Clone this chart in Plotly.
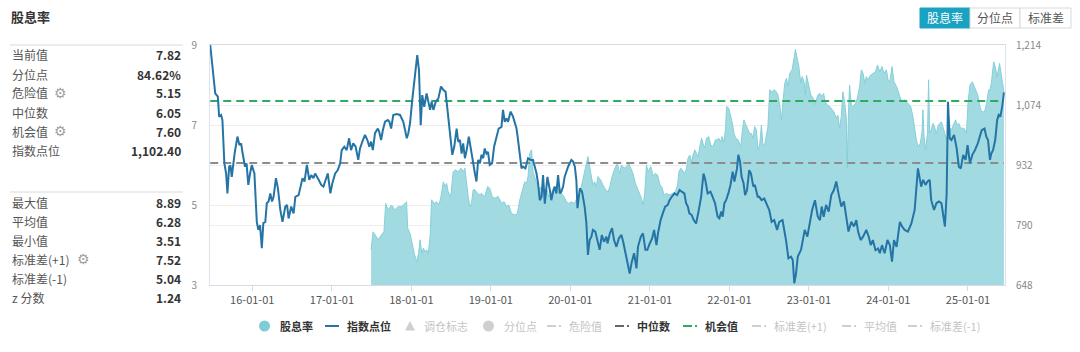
import plotly.graph_objects as go

# ---------------- data ----------------
idx_dates = [
"2015-06-22","2015-07-07","2015-07-15","2015-07-27","2015-08-02","2015-08-11","2015-08-17","2015-08-26",
"2015-09-03","2015-09-09","2015-09-17","2015-09-23","2015-09-29","2015-10-12","2015-10-25","2015-11-03",
"2015-11-11","2015-11-18","2015-11-29","2015-12-06","2015-12-14","2015-12-22","2015-12-30","2016-01-11",
"2016-01-22","2016-01-29","2016-02-06","2016-02-14","2016-02-21","2016-03-01","2016-03-08","2016-03-16",
"2016-03-24","2016-04-01","2016-04-08","2016-04-19","2016-04-28","2016-05-09","2016-05-19","2016-06-01",
"2016-06-09","2016-06-16","2016-06-28","2016-07-09","2016-07-17","2016-08-01","2016-08-12","2016-08-19",
"2016-08-28","2016-09-08","2016-09-19","2016-09-28","2016-10-08","2016-10-16","2016-11-01","2016-11-13",
"2016-11-23","2016-12-04","2016-12-13","2016-12-25","2017-01-03","2017-01-16","2017-01-28","2017-02-08",
"2017-02-15","2017-02-27","2017-03-10","2017-03-21","2017-03-30","2017-04-09","2017-04-20","2017-05-02",
"2017-05-10","2017-05-21","2017-06-02","2017-06-13","2017-06-22","2017-06-30","2017-07-08","2017-07-18",
"2017-07-31","2017-08-06","2017-08-15","2017-08-23","2017-09-02","2017-09-15","2017-09-22","2017-09-30",
"2017-10-10","2017-10-26","2017-11-10","2017-11-25","2017-12-11","2017-12-18","2017-12-26","2018-01-05",
"2018-01-18","2018-01-28","2018-02-05","2018-02-13","2018-02-20","2018-03-01","2018-03-12","2018-03-20",
"2018-03-28","2018-04-04","2018-04-12","2018-04-23","2018-05-05","2018-05-17","2018-05-28","2018-06-07",
"2018-06-19","2018-06-30","2018-07-08","2018-07-17","2018-07-28","2018-08-04","2018-08-12","2018-08-20",
"2018-08-27","2018-09-04","2018-09-12","2018-09-22","2018-10-04","2018-10-12","2018-10-20","2018-10-27",
"2018-11-04","2018-11-12","2018-11-19","2018-11-27","2018-12-04","2018-12-12","2018-12-19","2018-12-27",
"2019-01-07","2019-01-16","2019-01-27","2019-02-06","2019-02-19","2019-02-26","2019-03-06","2019-03-14",
"2019-03-21","2019-04-02","2019-04-13","2019-04-21","2019-04-29","2019-05-06","2019-05-14","2019-05-22",
"2019-05-29","2019-06-09","2019-06-21","2019-07-04","2019-07-14","2019-07-22","2019-07-30","2019-08-06",
"2019-08-14","2019-08-22","2019-08-29","2019-09-06","2019-09-18","2019-09-29","2019-10-06","2019-10-14",
"2019-10-22","2019-10-29","2019-11-06","2019-11-14","2019-11-21","2019-11-29","2019-12-06","2019-12-22",
"2020-01-06","2020-01-14","2020-01-22","2020-01-29","2020-02-03","2020-02-14","2020-02-24","2020-03-07",
"2020-03-15","2020-03-22","2020-03-30","2020-04-07","2020-04-14","2020-04-25","2020-05-04","2020-05-15",
"2020-05-25","2020-06-04","2020-06-15","2020-06-20","2020-07-01","2020-07-11","2020-07-20","2020-07-31",
"2020-08-11","2020-08-23","2020-08-31","2020-09-10","2020-09-22","2020-09-30","2020-10-08","2020-10-20",
"2020-10-31","2020-11-07","2020-11-20","2020-11-30","2020-12-11","2020-12-20","2020-12-31","2021-01-11",
"2021-01-20","2021-01-31","2021-02-07","2021-02-19","2021-03-01","2021-03-12","2021-03-24","2021-04-01",
"2021-04-11","2021-04-24","2021-05-06","2021-05-17","2021-05-27","2021-06-08","2021-06-16","2021-06-24",
"2021-07-01","2021-07-12","2021-07-21","2021-08-01","2021-08-12","2021-08-24","2021-09-04","2021-09-12",
"2021-09-23","2021-10-06","2021-10-16","2021-10-27","2021-11-08","2021-11-16","2021-11-24","2021-12-01",
"2021-12-09","2021-12-17","2021-12-27","2022-01-06","2022-01-16","2022-01-24","2022-02-05","2022-02-11",
"2022-02-19","2022-02-26","2022-03-07","2022-03-14","2022-03-23","2022-04-02","2022-04-10","2022-04-21",
"2022-04-28","2022-05-11","2022-05-18","2022-05-29","2022-06-10","2022-06-21","2022-07-03","2022-07-14",
"2022-07-26","2022-08-08","2022-08-18","2022-09-02","2022-09-18","2022-09-29","2022-10-11","2022-10-19",
"2022-10-26","2022-11-03","2022-11-11","2022-11-26","2022-12-08","2022-12-13","2022-12-25","2023-01-06",
"2023-01-16","2023-01-29","2023-02-11","2023-02-21","2023-03-01","2023-03-10","2023-03-21","2023-04-02",
"2023-04-14","2023-04-26","2023-05-07","2023-05-17","2023-05-30","2023-06-11","2023-06-22","2023-07-02",
"2023-07-15","2023-07-27","2023-08-07","2023-08-15","2023-08-27","2023-09-07","2023-09-22","2023-10-03",
"2023-10-12","2023-10-22","2023-11-03","2023-11-15","2023-11-23","2023-12-03","2023-12-15","2023-12-28",
"2024-01-08","2024-01-18","2024-01-27","2024-02-08","2024-02-23","2024-03-04","2024-03-16","2024-03-31",
"2024-04-16","2024-05-01","2024-05-16","2024-05-24","2024-05-31","2024-06-09","2024-06-20","2024-06-29",
"2024-07-09","2024-07-16","2024-07-29","2024-08-09","2024-08-20","2024-09-01","2024-09-17","2024-09-25",
"2024-10-01","2024-10-09","2024-10-17","2024-10-29","2024-11-10","2024-11-20","2024-11-29","2024-12-10",
"2024-12-21","2024-12-30","2025-01-10","2025-01-21","2025-02-02","2025-02-15","2025-02-25","2025-03-05",
"2025-03-18","2025-03-26","2025-04-03","2025-04-12","2025-04-18","2025-04-26","2025-05-06","2025-05-15",
"2025-05-22","2025-05-30","2025-06-08","2025-06-15"]
idx_values = [
1214,1147,1100,1092,1045,1049,1037,935,
911,864,927,930,903,958,998,978,
982,958,927,935,884,911,931,911,
797,778,789,735,794,797,841,845,
864,845,856,900,876,825,797,833,
837,805,833,817,856,860,888,900,
892,931,896,907,900,911,896,884,
880,900,911,864,888,911,919,935,
966,974,966,994,966,982,974,943,
970,986,1002,990,974,986,966,1006,
1017,1010,990,1013,1033,1037,1033,1017,
1049,1051,1049,1033,994,1006,1030,1084,
1147,1190,1155,1025,1096,1068,1100,1080,
1061,1080,1061,1080,1088,1116,1108,1104,
1045,1002,955,974,1017,986,990,958,
982,947,966,998,958,927,911,892,
943,935,955,947,970,958,962,931,
935,974,998,1017,1021,1061,1033,1041,
1033,1057,1045,1033,1017,990,955,923,
927,923,947,943,943,927,911,888,
848,856,907,840,903,872,848,868,
880,864,907,864,868,880,903,927,
943,939,927,895,829,876,868,833,
794,719,754,762,778,774,754,731,
766,750,762,746,770,782,754,738,
758,766,750,723,691,675,699,723,
687,738,762,770,731,731,746,758,
778,742,770,801,817,833,837,848,
856,864,860,872,868,864,841,833,
817,813,801,793,821,856,911,896,
864,868,856,841,809,805,821,809,
841,848,864,884,915,892,923,955,
939,903,888,860,872,919,911,880,
884,856,856,848,852,837,825,797,
801,778,797,801,754,711,715,707,
652,675,715,731,762,778,762,797,
825,848,809,801,833,809,837,821,
860,872,892,864,833,845,801,774,
797,786,801,774,754,762,778,762,
742,754,730,734,723,742,723,754,
742,703,754,738,797,786,778,774,
793,825,923,903,880,896,884,892,
896,848,825,841,845,841,786,864,
1080,994,990,1002,970,927,923,955,
943,978,935,955,966,982,998,1013,
1017,998,990,943,958,966,990,1037,
1049,1045,1072,1102.4]

dy_dates = [
"2017-06-30","2017-07-09","2017-07-24","2017-08-01","2017-08-16","2017-08-28","2017-09-05","2017-09-16",
"2017-10-02","2017-10-17","2017-11-02","2017-11-17","2017-12-03","2017-12-10","2017-12-15","2017-12-26",
"2018-01-05","2018-01-14","2018-01-26","2018-02-03","2018-02-10","2018-02-18","2018-02-25","2018-03-05",
"2018-03-12","2018-03-20","2018-03-28","2018-04-04","2018-04-16","2018-04-27","2018-05-08","2018-05-17",
"2018-05-28","2018-06-04","2018-06-12","2018-06-19","2018-07-01","2018-07-12","2018-07-23","2018-08-04",
"2018-08-17","2018-08-27","2018-09-04","2018-09-12","2018-09-19","2018-09-27","2018-10-04","2018-10-12",
"2018-10-20","2018-10-27","2018-11-07","2018-11-19","2018-12-04","2018-12-17","2018-12-27","2019-01-07",
"2019-01-19","2019-02-04","2019-02-19","2019-03-03","2019-03-14","2019-03-24","2019-04-06","2019-04-21",
"2019-05-03","2019-05-14","2019-05-24","2019-06-06","2019-06-14","2019-06-21","2019-06-29","2019-07-07",
"2019-07-14","2019-07-22","2019-08-04","2019-08-14","2019-08-25","2019-09-06","2019-09-14","2019-09-24",
"2019-10-06","2019-10-18","2019-10-29","2019-11-09","2019-11-21","2019-12-03","2019-12-14","2019-12-25",
"2020-01-06","2020-01-21","2020-02-03","2020-02-14","2020-02-24","2020-03-04","2020-03-15","2020-03-22",
"2020-03-30","2020-04-07","2020-04-14","2020-04-22","2020-04-30","2020-05-07","2020-05-19","2020-05-30",
"2020-06-11","2020-06-22","2020-07-01","2020-07-11","2020-07-24","2020-08-05","2020-08-15","2020-08-23",
"2020-09-04","2020-09-15","2020-09-25","2020-10-05","2020-10-15","2020-10-26","2020-11-08","2020-11-20",
"2020-12-01","2020-12-08","2020-12-16","2020-12-23","2021-01-05","2021-01-16","2021-01-24","2021-02-05",
"2021-02-16","2021-02-24","2021-03-07","2021-03-18","2021-04-02","2021-04-17","2021-04-28","2021-05-08",
"2021-05-14","2021-05-23","2021-06-02","2021-06-10","2021-06-18","2021-06-25","2021-07-03","2021-07-11",
"2021-07-18","2021-07-26","2021-08-03","2021-08-10","2021-08-18","2021-08-26","2021-09-02","2021-09-10",
"2021-09-17","2021-09-28","2021-10-07","2021-10-18","2021-10-29","2021-11-07","2021-11-13","2021-11-22",
"2021-11-28","2021-12-07","2021-12-14","2021-12-19","2021-12-29","2022-01-07","2022-01-15","2022-01-22",
"2022-01-30","2022-02-10","2022-02-22","2022-03-02","2022-03-09","2022-03-15","2022-03-24","2022-04-04",
"2022-04-12","2022-04-19","2022-04-27","2022-05-05","2022-05-12","2022-05-20","2022-05-28","2022-06-04",
"2022-06-12","2022-06-20","2022-06-27","2022-07-05","2022-07-15","2022-07-25","2022-08-05","2022-08-12",
"2022-08-20","2022-08-28","2022-09-05","2022-09-12","2022-09-20","2022-09-27","2022-10-05","2022-10-16",
"2022-10-25","2022-10-31","2022-11-10","2022-11-16","2022-11-25","2022-12-01","2022-12-10","2022-12-16",
"2022-12-21","2023-01-01","2023-01-10","2023-01-21","2023-01-29","2023-02-11","2023-02-21","2023-03-01",
"2023-03-10","2023-03-17","2023-03-27","2023-04-07","2023-04-17","2023-04-26","2023-05-07","2023-05-14",
"2023-05-22","2023-05-30","2023-06-06","2023-06-14","2023-06-22","2023-06-26","2023-07-02","2023-07-07",
"2023-07-15","2023-07-22","2023-08-03","2023-08-12","2023-08-22","2023-08-30","2023-09-07","2023-09-15",
"2023-09-22","2023-09-29","2023-10-12","2023-10-22","2023-11-03","2023-11-12","2023-11-23","2023-12-03",
"2023-12-12","2023-12-23","2023-12-31","2024-01-08","2024-01-18","2024-01-27","2024-02-08","2024-02-23",
"2024-03-04","2024-03-16","2024-03-31","2024-04-13","2024-04-23","2024-05-01","2024-05-09","2024-05-16",
"2024-05-27","2024-06-04","2024-06-08","2024-06-13","2024-06-20","2024-06-29","2024-07-04","2024-07-09",
"2024-07-16","2024-07-24","2024-07-31","2024-08-08","2024-08-18","2024-09-01","2024-09-13","2024-09-25",
"2024-10-01","2024-10-09","2024-10-17","2024-10-25","2024-11-05","2024-11-12","2024-11-20","2024-11-28",
"2024-12-13","2024-12-25","2025-01-01","2025-01-10","2025-01-21","2025-02-02","2025-02-15","2025-02-25",
"2025-03-05","2025-03-18","2025-03-26","2025-04-06","2025-04-12","2025-04-18","2025-04-29","2025-05-06",
"2025-05-15","2025-05-26","2025-06-05","2025-06-15"]
dy_values = [
3.88,4.33,4.21,4.13,4.25,4.33,5.04,4.88,
5.00,4.88,4.96,4.96,5.04,5.08,4.42,4.29,
4.04,3.79,3.58,3.79,4.13,3.79,3.92,3.83,
3.88,3.79,4.21,5.13,5.04,5.08,5.00,5.21,
5.58,5.46,5.54,5.33,5.21,5.83,5.88,5.83,
5.92,5.83,5.92,5.46,5.21,4.96,5.04,5.38,
5.38,5.33,5.25,5.29,5.21,5.46,5.42,5.21,
5.17,5.21,5.04,5.08,4.96,5.00,4.79,4.75,
4.79,5.13,5.33,5.58,5.54,5.71,6.29,6.38,
5.83,5.71,5.46,5.42,5.46,5.33,5.42,5.21,
5.29,5.46,5.42,5.54,5.29,5.21,5.08,5.04,
5.08,5.04,5.21,5.29,5.54,5.83,6.08,6.21,
5.96,5.67,5.50,5.58,5.46,5.71,5.63,5.50,
5.38,5.33,5.46,5.71,5.92,6.04,5.79,6.00,
5.92,5.96,6.04,5.92,5.79,5.54,5.38,5.21,
5.00,5.29,6.00,5.83,5.96,5.71,5.79,5.75,
5.50,5.46,5.25,5.29,5.25,5.29,5.33,5.50,
5.83,5.92,5.83,5.79,5.92,6.17,6.25,6.08,
6.25,6.38,6.29,6.21,6.46,6.67,6.54,6.42,
6.67,6.71,6.50,6.46,6.63,6.63,6.67,6.58,
6.71,6.58,6.88,7.46,7.42,7.25,7.04,6.79,
6.67,6.63,6.46,6.88,7.13,7.04,6.92,6.79,
6.79,6.67,6.96,6.88,6.38,6.50,7.00,6.50,
6.50,6.71,6.96,7.88,7.83,7.88,7.83,7.75,
7.50,7.13,7.58,8.04,8.17,7.96,8.29,8.38,
8.67,8.89,8.63,8.46,8.04,8.21,8.08,7.75,
8.25,8.00,7.75,7.67,7.50,7.75,7.79,7.71,
7.79,7.58,7.50,7.46,7.38,7.33,7.17,7.25,
6.92,7.21,7.83,7.58,7.17,5.92,7.29,8.00,
7.50,7.46,7.54,7.67,7.96,8.38,8.29,8.04,
8.21,8.13,8.25,8.29,8.33,8.50,8.33,8.46,
8.29,8.38,8.13,8.08,8.46,8.08,7.96,7.71,
7.58,7.63,7.54,7.46,7.21,6.88,6.63,6.46,
6.54,6.83,7.38,6.71,6.38,6.79,8.13,6.79,
6.88,7.04,6.96,6.79,7.00,7.08,6.83,6.63,
6.79,6.92,6.88,7.00,7.13,7.00,7.04,6.92,
6.92,6.79,7.54,8.00,8.08,7.92,7.75,7.46,
7.33,7.33,7.50,7.88,7.88,8.04,8.58,8.46,
8.21,8.54,8.17,7.82]

x_range = ["2015-06-21", "2025-06-20"]
x_ticks = ["2016-01-01","2017-01-01","2018-01-01","2019-01-01","2020-01-01",
           "2021-01-01","2022-01-01","2023-01-01","2024-01-01","2025-01-01"]
y_ticks = [3, 5, 7, 9]
y2_ticks = [648, 789.5, 931, 1072.5, 1214]
y2_labels = ["648", "790", "932", "1,074", "1,214"]

ref_names = ["危险值", "中位数", "机会值", "标准差(+1)", "平均值", "标准差(-1)"]
ref_values = [5.15, 6.05, 7.60, 7.52, 6.28, 5.04]
ref_shown = [False, True, True, False, False, False]

legend_names = ["股息率", "指数点位", "调仓标志", "分位点", "危险值", "中位数", "机会值",
                "标准差(+1)", "平均值", "标准差(-1)"]
legend_active = [True, True, False, False, False, True, True, False, False, False]

stat_labels_1 = ["当前值", "分位点", "危险值", "中位数", "机会值", "指数点位"]
stat_values_1 = ["7.82", "84.62%", "5.15", "6.05", "7.60", "1,102.40"]
stat_gear_1 = [False, False, True, False, True, False]
stat_labels_2 = ["最大值", "平均值", "最小值", "标准差(+1)", "标准差(-1)", "z 分数"]
stat_values_2 = ["8.89", "6.28", "3.51", "7.52", "5.04", "1.24"]
stat_gear_2 = [False, False, False, True, False, False]

buttons = ["股息率", "分位点", "标准差"]

# ---------------- style ----------------
W, H = 1080, 352
L, R, T, B = 210, 75, 45, 67
PW, PH = W - L - R, H - T - B
FONT = "Noto Sans CJK SC, Noto Sans, sans-serif"
AREA_LINE, AREA_FILL, AREA_ICON = "#86d0d9", "#a2dae1", "#7ccdd8"
INDEX_COLOR = "#2574a6"
REF_COLORS = ["#c8c8c8", "#8c8c8c", "#2eaa62", "#c8c8c8", "#c8c8c8", "#c8c8c8"]
LEGEND_KIND = ["circle", "line", "triangle", "circle", "dashdot", "dashdot", "dashdot",
               "dashdot", "dashdot", "dashdot"]
LEGEND_COLOR = [AREA_ICON, INDEX_COLOR, "#cfcfcf", "#cfcfcf", "#cfcfcf", "#666666", "#2eaa62",
                "#cfcfcf", "#cfcfcf", "#cfcfcf"]
LEGEND_X = [259, 325, 405, 483, 547, 615, 683, 752, 842, 908]   # pixel start of each legend icon
LEGEND_Y = 326

def px(x):
    return (x - L) / PW

def py(y):
    return (H - B - y) / PH

fig = go.Figure()

# dividend-yield area
fig.add_trace(go.Scatter(
    x=dy_dates, y=dy_values, mode="lines", fill="tozeroy",
    line=dict(color=AREA_LINE, width=1), fillcolor=AREA_FILL,
    name="股息率", showlegend=False, yaxis="y"))

# reference lines (only the enabled ones are drawn)
for nm, val, shown, col in zip(ref_names, ref_values, ref_shown, REF_COLORS):
    if shown:
        fig.add_trace(go.Scatter(
            x=[idx_dates[0], idx_dates[-1]], y=[val, val], mode="lines", name=nm,
            line=dict(color=col, width=2, dash="8px,5px"), showlegend=False, hoverinfo="skip"))

# index line
fig.add_trace(go.Scatter(
    x=idx_dates, y=idx_values, mode="lines", name="指数点位",
    line=dict(color=INDEX_COLOR, width=2), yaxis="y2", showlegend=False))

annotations = []
shapes = []

# title
annotations.append(dict(xref="paper", yref="paper", x=px(9), y=py(17), xanchor="left", yanchor="middle",
                        text="<b>股息率</b>", showarrow=False,
                        font=dict(size=13, color="#333333", family=FONT)))

# stats panel
def add_stats(labels, values, gears, y0):
    for k, (lab, val, g) in enumerate(zip(labels, values, gears)):
        yy = y0 + k * 19
        annotations.append(dict(xref="paper", yref="paper", x=px(10), y=py(yy), xanchor="left",
                                yanchor="middle", text=lab, showarrow=False,
                                font=dict(size=12, color="#555555", family=FONT)))
        annotations.append(dict(xref="paper", yref="paper", x=px(183), y=py(yy), xanchor="right",
                                yanchor="middle", text="<b>%s</b>" % val, showarrow=False,
                                font=dict(size=12, color="#333333", family=FONT)))
        if g:
            gx = 60 if "(" not in lab else 83
            annotations.append(dict(xref="paper", yref="paper", x=px(gx), y=py(yy), xanchor="center",
                                    yanchor="middle", text="⚙", showarrow=False,
                                    font=dict(size=14, color="#a0a0a0", family="DejaVu Sans")))

add_stats(stat_labels_1, stat_values_1, stat_gear_1, 55)
add_stats(stat_labels_2, stat_values_2, stat_gear_2, 202)

for yy in (45, 192):
    shapes.append(dict(type="line", xref="paper", yref="paper", x0=px(10), x1=px(183),
                       y0=py(yy), y1=py(yy), line=dict(color="#ececec", width=2)))

# buttons
bx = [920, 970, 1020, 1071]
for i, b in enumerate(buttons):
    active = i == 0
    shapes.append(dict(type="rect", xref="paper", yref="paper", x0=px(bx[i]), x1=px(bx[i + 1]),
                       y0=py(28), y1=py(8), fillcolor="#1aa2c3" if active else "#ffffff",
                       line=dict(color="#1aa2c3" if active else "#d9d9d9", width=1), layer="above"))
    annotations.append(dict(xref="paper", yref="paper", x=px((bx[i] + bx[i + 1]) / 2), y=py(18),
                            xanchor="center", yanchor="middle", text=b, showarrow=False,
                            font=dict(size=12, color="#ffffff" if active else "#555555", family=FONT)))

# custom legend (echarts style)
for name, active, kind, col, x0 in zip(legend_names, legend_active, LEGEND_KIND, LEGEND_COLOR, LEGEND_X):
    yc = LEGEND_Y
    if kind == "circle":
        shapes.append(dict(type="circle", xref="paper", yref="paper", x0=px(x0), x1=px(x0 + 11),
                           y0=py(yc + 5.5), y1=py(yc - 5.5), fillcolor=col, line=dict(width=0)))
        tx = x0 + 19
    elif kind == "triangle":
        path = "M %f,%f L %f,%f L %f,%f Z" % (px(x0), py(yc + 4.5), px(x0 + 10), py(yc + 4.5),
                                              px(x0 + 5), py(yc - 5))
        shapes.append(dict(type="path", xref="paper", yref="paper", path=path,
                           fillcolor=col, line=dict(width=0)))
        tx = x0 + 17
    elif kind == "line":
        shapes.append(dict(type="line", xref="paper", yref="paper", x0=px(x0), x1=px(x0 + 14),
                           y0=py(yc), y1=py(yc), line=dict(color=col, width=2)))
        tx = x0 + 20
    else:
        shapes.append(dict(type="line", xref="paper", yref="paper", x0=px(x0), x1=px(x0 + 9),
                           y0=py(yc), y1=py(yc), line=dict(color=col, width=2)))
        shapes.append(dict(type="line", xref="paper", yref="paper", x0=px(x0 + 12), x1=px(x0 + 14),
                           y0=py(yc), y1=py(yc), line=dict(color=col, width=2)))
        tx = x0 + 20
    annotations.append(dict(xref="paper", yref="paper", x=px(tx), y=py(yc), xanchor="left",
                            yanchor="middle", showarrow=False,
                            text=("<b>%s</b>" % name) if active else name,
                            font=dict(size=11, color="#333333" if active else "#c4c4c4", family=FONT)))

fig.update_layout(
    width=W, height=H,
    margin=dict(l=L, r=R, t=T, b=B, pad=0),
    paper_bgcolor="white", plot_bgcolor="white",
    font=dict(family=FONT, size=11, color="#555555"),
    xaxis=dict(type="date", range=x_range, tickvals=x_ticks, tickformat="%y-%m-%d",
               showgrid=False, showline=True, linecolor="#d5dce6", linewidth=1, mirror=True,
               ticks="outside", ticklen=5, tickcolor="#d5dce6",
               tickfont=dict(size=11, color="#555555"), zeroline=False),
    yaxis=dict(range=[3, 9], tickvals=y_ticks, showgrid=True, gridcolor="#eeeeee", gridwidth=1,
               showline=True, linecolor="#dde3ec", mirror=True, zeroline=False,
               tickfont=dict(size=10, color="#888888"), ticks="", ticklabelstandoff=10),
    yaxis2=dict(range=[648, 1214], tickvals=y2_ticks, ticktext=y2_labels, overlaying="y", side="right",
                showgrid=True, gridcolor="#eeeeee", gridwidth=1, zeroline=False, showline=False,
                tickfont=dict(size=10, color="#888888"), ticklabelstandoff=10),
    showlegend=False,
    annotations=annotations, shapes=shapes,
    hovermode="x",
)

fig.write_html("out.html")
